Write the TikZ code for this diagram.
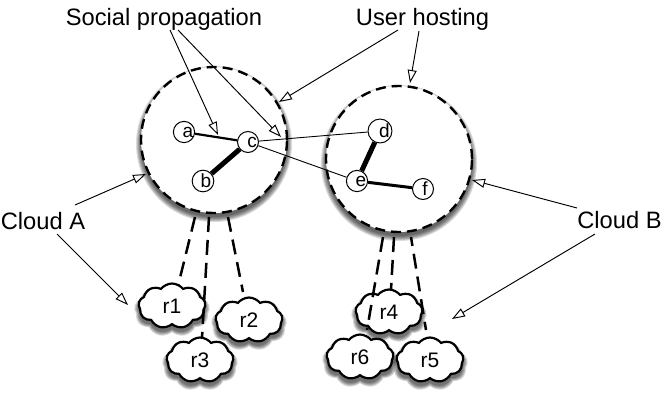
\documentclass[tikz,border=0pt]{standalone}
\usepackage{fontspec}
\setmainfont{Liberation Sans}
\usetikzlibrary{arrows.meta,shapes.symbols}
\tikzset{
  cloudarea/.style={circle,draw=black,fill=white,line width=2.4pt,dash pattern=on 10pt off 6pt,
    minimum size=146pt,inner sep=0pt},
  host/.style={circle,draw=black,fill=white,line width=1pt,minimum size=21pt,inner sep=0pt,
    font=\fontsize{19}{19}\selectfont},
  puffshape/.style={cloud,cloud puffs=9,cloud puff arc=105,aspect=1.6,inner sep=0pt},
  replica/.style={puffshape,draw=black,fill=white,line width=2.2pt,
    minimum width=67pt,minimum height=45pt,font=\fontsize{21}{21}\selectfont},
  puffshade/.style={puffshape,fill=black,fill opacity=.15},
  tag/.style={font=\fontsize{23.7}{24}\selectfont,inner sep=0pt},
  pointer/.style={line width=.95pt,-{Triangle[open,length=13pt,width=9pt,fill=white]}},
  tether/.style={line width=2.5pt,dash pattern=on 15pt off 8pt},
}
% soft shadows: stacked translucent copies that grow outwards
\newcommand{\discshade}[2]{%
  \foreach \g in {5,4,3,2,1,0}{\fill[black,fill opacity=.14] (#1,#2+4) circle[radius=73pt+\g pt];}}
\newcommand{\puffshadenode}[2]{%
  \foreach \g in {9,7,5,3,1}{\node[puffshade,minimum width=67pt+\g pt,minimum height=45pt+\g pt] (shade\g) at (#1,#2+4) {};}}
\begin{document}
\begin{tikzpicture}[x=1pt,y=-1pt]
\useasboundingbox (0,0) rectangle (664,405);

% the two clouds of users
\discshade{214}{140}
\discshade{399}{159}
\node[cloudarea] (A) at (214,140) {};
\node[cloudarea] (B) at (399,159) {};

% tethers ending behind the replicas
\coordinate (a1) at (195,217); \coordinate (a2) at (209,217); \coordinate (a3) at (228,217);
\coordinate (a1e) at (178,286); \coordinate (a2e) at (202,338); \coordinate (a3e) at (243,292);
\coordinate (b1) at (383,237); \coordinate (b2) at (394,237); \coordinate (b3) at (411,237);
\coordinate (b1e) at (367,330); \coordinate (b2e) at (391,290); \coordinate (b3e) at (426,330);

\draw[tether] (a1) -- (a1e);
\draw[tether] (a3) -- (a3e);

\puffshadenode{172}{306}
\node[replica] (r1) at (172,306) {r1};
\draw[tether] (a2) -- (a2e);
\puffshadenode{249}{320}
\node[replica] (r2) at (249,320) {r2};
\puffshadenode{200}{360}
\node[replica] (r3) at (200,360) {r3};

\puffshadenode{389}{312}
\node[replica] (r4) at (389,312) {r4};
\draw[tether] (b1) -- (b1e);
\draw[tether] (b2) -- (b2e);
\draw[tether,dash phase=6pt] (b3) -- (b3e);
\puffshadenode{360}{357}
\node[replica] (r6) at (360,357) {r6};
\puffshadenode{430}{360}
\node[replica] (r5) at (430,360) {r5};

% hosts and the social links between them
\node[host] (na) at (184,132) {\kern8pt a};
\node[host] (nc) at (248,142) {\kern8pt c};
\node[host] (nb) at (203,181) {\kern6pt b};
\node[host] (nd) at (380,131) {\kern9pt d};
\node[host] (ne) at (357,181) {\kern8pt e};
\node[host] (nf) at (423,189) {\kern4pt f};

\draw[line width=2.2pt] (na) -- (nc);
\draw[line width=5pt] (nb) -- (nc);
\draw[line width=.9pt] (nc) -- (nd);
\draw[line width=.9pt] (nc) -- (ne);
\draw[line width=5pt] (nd) -- (ne);
\draw[line width=3pt] (ne) -- (nf);

% captions
\node[tag,anchor=base] (social) at (164,25) {Social propagation};
\node[tag,anchor=base] (user) at (422.5,25) {User hosting};
\node[tag,anchor=base] (ca) at (43,229) {Cloud A};
\node[tag,anchor=base] (cb) at (619.5,228) {Cloud B};

% pointers from the captions
\coordinate (s1) at (170,30); \coordinate (s1t) at (218,135);
\coordinate (s2) at (178,30); \coordinate (s2t) at (281,137);
\coordinate (u1) at (398,30); \coordinate (u1t) at (279,102);
\coordinate (u2) at (419,31); \coordinate (u2t) at (410,83);
\coordinate (c1) at (75,205); \coordinate (c1t) at (146,174);
\coordinate (c2) at (57,234); \coordinate (c2t) at (128,305);
\coordinate (d1) at (577,208); \coordinate (d1t) at (472,180);
\coordinate (d2) at (595,234); \coordinate (d2t) at (452,319);
\foreach \from/\to in {s1/s1t,s2/s2t,u1/u1t,u2/u2t,c1/c1t,c2/c2t,d1/d1t,d2/d2t}
  \draw[pointer] (\from) -- (\to);
\end{tikzpicture}
\end{document}
